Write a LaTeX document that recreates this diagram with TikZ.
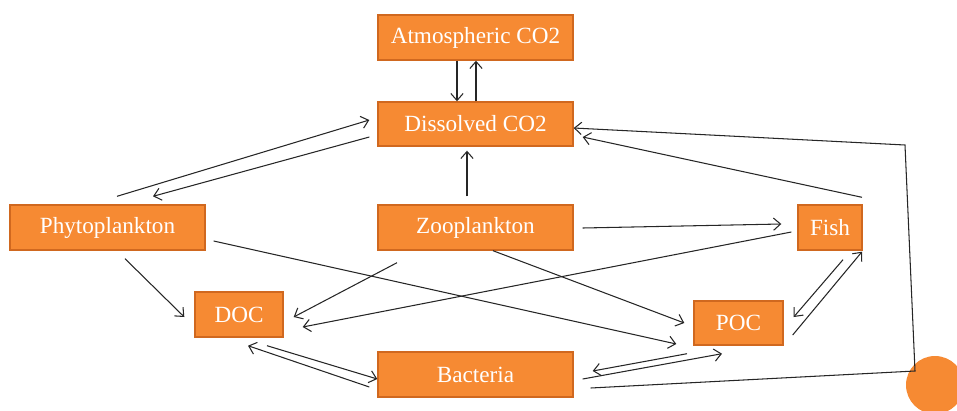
\documentclass[tikz,border=0pt]{standalone}
\usepackage{fontspec}
\setmainfont{Liberation Serif}
\usetikzlibrary{arrows.meta,calc}
\definecolor{boxfill}{HTML}{F68A33}
\definecolor{boxline}{HTML}{D0681F}
\definecolor{flow}{HTML}{262626}

\begin{document}
\begin{tikzpicture}[x=0.02cm,y=-0.02cm,
  pool/.style={draw=boxline,line width=0.8pt,fill=boxfill,text=white,inner sep=0pt,
    font=\fontsize{13.2}{15}\selectfont,minimum height=0.9cm},
  wide/.style={pool,minimum width=3.9cm},
  arr/.style={draw=flow,line width=0.6pt,-{Straight Barb[length=4pt,width=7pt]}}]
  \useasboundingbox (0,0) rectangle (957,410);
  \clip (0,0) rectangle (957,410);

  % Carbon pools
  \node[wide] (atm) at (475.5,37.5) {Atmospheric CO2};
  \node[wide,minimum height=0.88cm] (diss) at (475.5,124) {Dissolved CO2};
  \node[wide] (phyto) at (107.5,227.5) {Phytoplankton};
  \node[wide] (zoo) at (475.5,227.5) {Zooplankton};
  \node[pool,minimum width=1.28cm] (fish) at (830,227.5) {Fish};
  \node[pool,minimum width=1.76cm] (doc) at (239,314.5) {DOC};
  \node[pool,minimum width=1.78cm,minimum height=0.88cm] (poc) at (738.5,323) {POC};
  \node[wide] (bact) at (475.5,374.5) {Bacteria};

  % corner dot
  \fill[boxfill] (935,385) circle (0.58cm);

  % Exchange with the atmosphere
  \draw[arr] ($(atm.south)+(-18.5,0)$) -- ($(diss.north)+(-18.5,0)$);
  \draw[arr] ($(diss.north)+(0.5,0)$) -- ($(atm.south)+(0.5,0)$);

  % Flows into dissolved CO2
  \draw[arr] ($(zoo.north)+(-8.5,-8)$) -- ($(diss.south)+(-8.5,4)$);
  \draw[arr] ($(phyto.north)+(9.5,-8)$) -- ($(diss.west)+(-8,-4)$);
  \draw[arr] ($(diss.west)+(-8,13)$) -- ($(phyto.north)+(45.5,-8)$);
  \draw[arr] ($(fish.north)+(32,-7)$) -- ($(diss.east)+(9,13)$);
  \coordinate (loopbot) at (915,371);
  \coordinate (looptop) at (905,145);
  \draw[arr] ($(bact.east)+(17,13.5)$) -- (loopbot) -- (looptop) -- ($(diss.east)+(0,4)$);

  % Grazing and losses
  \draw[arr] ($(zoo.east)+(9,0.5)$) -- ($(fish.west)+(-16,-3.5)$);
  \draw[arr] ($(fish.west)+(-6,4.5)$) -- ($(doc.east)+(19,12.5)$);
  \draw[arr] ($(zoo.south)+(-78.5,12)$) -- ($(doc.east)+(10,2.5)$);
  \draw[arr] ($(zoo.south)+(17.5,0)$) -- ($(poc.west)+(-9,0)$);
  \draw[arr] ($(phyto.east)+(8,13.5)$) -- ($(poc.west)+(-17,21)$);
  \draw[arr] ($(phyto.south)+(17.5,8)$) -- ($(doc.west)+(-10,2.5)$);

  % Bacteria and detritus
  \draw[arr] ($(doc.south)+(28,8)$) -- ($(bact.west)+(0,4.5)$);
  \draw[arr] ($(bact.west)+(-8,12.5)$) -- ($(doc.south)+(9,8)$);
  \draw[arr] ($(poc.south)+(-51.5,8)$) -- ($(bact.east)+(19,-3.5)$);
  \draw[arr] ($(bact.east)+(9,4.5)$) -- ($(poc.south)+(-16.5,8)$);
  \draw[arr] ($(fish.south)+(13,9)$) -- ($(poc.east)+(10,-6)$);
  \draw[arr] ($(poc.east)+(9,12)$) -- ($(fish.south)+(32,1)$);
\end{tikzpicture}
\end{document}
